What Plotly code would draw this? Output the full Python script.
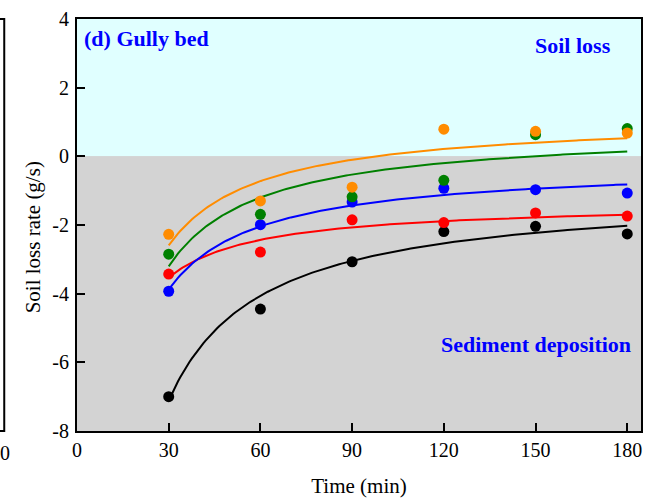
import numpy as np
import plotly.graph_objects as go

# Sampling times (min)
time_min = [30, 60, 90, 120, 150, 180]

# Soil loss rate (g/s) for each run
series_names = ["black", "red", "blue", "green", "orange"]
rate_black = [-7.00, -4.45, -3.07, -2.19, -2.04, -2.26]
rate_red = [-3.43, -2.79, -1.85, -1.93, -1.65, -1.74]
rate_blue = [-3.93, -1.99, -1.33, -0.93, -0.97, -1.07]
rate_green = [-2.85, -1.69, -1.18, -0.70, 0.63, 0.81]
rate_orange = [-2.27, -1.30, -0.90, 0.79, 0.73, 0.68]

series_colors = ["#000000", "#ff0000", "#0000ff", "#008000", "#ff8c00"]
series_values = [rate_black, rate_red, rate_blue, rate_green, rate_orange]

x_ticks = [0, 30, 60, 90, 120, 150, 180]
y_ticks = [4, 2, 0, -2, -4, -6, -8]
y_ticktext = ["4", "2", "0", "-2", "-4", "-6", "-8"]

FONT = "Liberation Serif"

fig = go.Figure()

# Background bands: soil loss (above zero) and sediment deposition (below zero)
fig.add_shape(type="rect", xref="paper", yref="y", x0=0, x1=1, y0=0, y1=4,
              fillcolor="#e0ffff", line_width=0, layer="below")
fig.add_shape(type="rect", xref="paper", yref="y", x0=0, x1=1, y0=-8, y1=0,
              fillcolor="#d3d3d3", line_width=0, layer="below")

t = np.asarray(time_min, dtype=float)
t_fine = np.linspace(30, 180, 200)
for name, color, vals in zip(series_names, series_colors, series_values):
    y = np.asarray(vals, dtype=float)
    # Least-squares fit of y = a + b / t
    b, a = np.polyfit(1.0 / t, y, 1)
    fig.add_trace(go.Scatter(x=t_fine, y=a + b / t_fine, mode="lines",
                             line=dict(color=color, width=2),
                             showlegend=False, hoverinfo="skip"))
for name, color, vals in zip(series_names, series_colors, series_values):
    fig.add_trace(go.Scatter(x=time_min, y=vals, mode="markers", name=name,
                             marker=dict(color=color, size=11),
                             showlegend=False))

# Neighbouring panel edge on the far left
fig.add_shape(type="path", xref="paper", yref="paper",
              path="M -0.16 1 L -0.129 1 L -0.129 0 L -0.16 0",
              line=dict(color="black", width=2))
fig.add_annotation(text="0", xref="paper", yref="paper", x=-0.128, y=-0.022,
                   xanchor="center", yanchor="top", showarrow=False,
                   font=dict(family=FONT, size=20, color="black"))

# Y-axis title
fig.add_annotation(text="Soil loss rate (g/s)", xref="paper", yref="paper",
                   x=-0.078, y=0.47, xanchor="center", yanchor="middle",
                   textangle=-90, showarrow=False,
                   font=dict(family=FONT, size=21, color="black"))

ann_font = dict(family=FONT, size=22, color="#0000ff")
fig.add_annotation(text="<b>(d) Gully bed</b>", xref="paper", yref="y",
                   x=0.008, y=3.43, xanchor="left", yanchor="middle",
                   showarrow=False, font=ann_font)
fig.add_annotation(text="<b>Soil loss</b>", xref="x", yref="y",
                   x=175.5, y=3.23, xanchor="right", yanchor="middle",
                   showarrow=False, font=ann_font)
fig.add_annotation(text="<b>Sediment deposition</b>", xref="x", yref="y",
                   x=182, y=-5.48, xanchor="right", yanchor="middle",
                   showarrow=False, font=ann_font)

axis_common = dict(showgrid=False, zeroline=False, showline=True,
                   linecolor="black", linewidth=2, mirror=True,
                   ticks="inside", ticklen=8, tickwidth=1.5, tickcolor="black",
                   tickfont=dict(family=FONT, size=20, color="black"))

fig.update_xaxes(range=[0, 184.5], tickvals=x_ticks,
                 title=dict(text="Time (min)", standoff=18,
                            font=dict(family=FONT, size=21, color="black")),
                 **axis_common)
fig.update_yaxes(range=[-8, 4], tickvals=y_ticks, ticktext=y_ticktext,
                 ticklabelstandoff=2,
                 **axis_common)

fig.update_layout(width=651, height=502,
                  margin=dict(l=77, r=8, t=13, b=70),
                  paper_bgcolor="white", plot_bgcolor="#d3d3d3",
                  showlegend=False)

fig.write_html("out.html")
